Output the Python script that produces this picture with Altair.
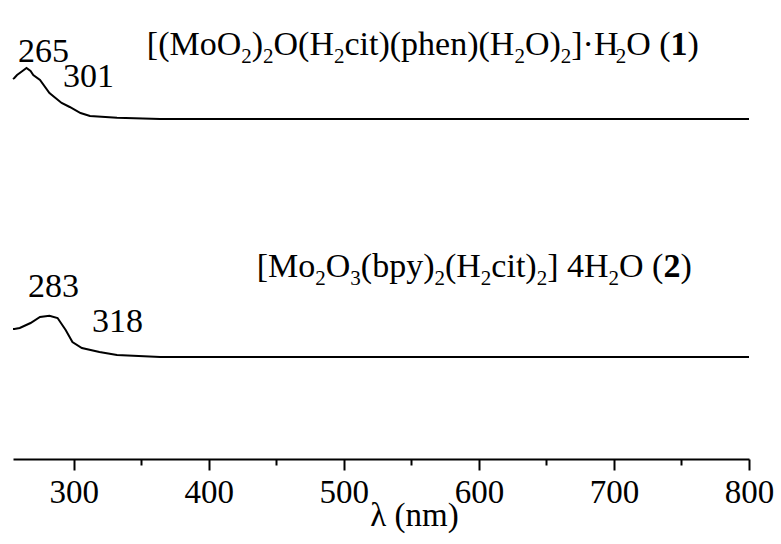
import altair as alt
import pandas as pd

# ---- spectra (wavelength nm, absorbance a.u., offset) ----
wl1 = [255, 256, 258, 262, 265, 268, 270, 275, 282, 291, 297, 305, 312, 332, 364, 400, 500, 600, 700, 800]
ab1 = [3.80, 3.81, 3.84, 3.88, 3.91, 3.88, 3.84, 3.79, 3.66, 3.56, 3.52, 3.46, 3.43, 3.413, 3.40, 3.40, 3.40, 3.40, 3.40, 3.40]
wl2 = [255, 256, 260, 268, 275, 282, 288, 294, 299, 306, 319, 332, 364, 400, 500, 600, 700, 800]
ab2 = [1.30, 1.30, 1.31, 1.36, 1.42, 1.433, 1.41, 1.29, 1.17, 1.11, 1.07, 1.04, 1.02, 1.02, 1.02, 1.02, 1.02, 1.02]

# ---- peak labels ----
peak_text = ["265", "301", "283", "318"]
peak_x = [258.7, 292.0, 266.1, 313.5]
peak_y = [3.97, 3.72, 1.62, 1.27]

# ---- compound labels (segments: text, kind n=normal s=subscript b=bold) ----
title1 = [("[(MoO", "n"), ("2", "s"), (")", "n"), ("2", "s"), ("O(H", "n"), ("2", "s"),
          ("cit)(phen)(H", "n"), ("2", "s"), ("O)", "n"), ("2", "s"), ("]·H", "n"),
          ("2", "s"), ("O (", "n"), ("1", "b"), (")", "n")]
title2 = [("[Mo", "n"), ("2", "s"), ("O", "n"), ("3", "s"), ("(bpy)", "n"), ("2", "s"),
          ("(H", "n"), ("2", "s"), ("cit)", "n"), ("2", "s"), ("] 4H", "n"), ("2", "s"),
          ("O (", "n"), ("2", "b"), (")", "n")]
title_anchor_x = [354.1, 435.5]
title_anchor_y = [4.04, 1.82]

X_DOMAIN = [255, 800]
Y_DOMAIN = [0, 4.59]
W, H = 736, 459
FONT = "Liberation Serif"
FS, SUB_FS = 34, 21
SUB_DROP = 0.08  # in y units

# Times/Liberation Serif advance widths (per 1000 em)
TW = {'[': 333, ']': 333, '(': 333, ')': 333, 'M': 889, 'o': 500, 'O': 722, 'H': 722,
      'c': 444, 'i': 278, 't': 278, 'p': 500, 'h': 500, 'e': 444, 'n': 500, 'b': 500,
      'y': 500, '·': 250, ' ': 250}
for d in "0123456789":
    TW[d] = 500

px_per_nm = W / (X_DOMAIN[1] - X_DOMAIN[0])

rows = []
for segs, ax, ay in zip([title1, title2], title_anchor_x, title_anchor_y):
    off = 0.0
    for txt, kind in segs:
        size = SUB_FS if kind == "s" else FS
        rows.append({"x": ax + off / px_per_nm,
                     "y": ay - (SUB_DROP if kind == "s" else 0.0),
                     "t": txt, "kind": kind})
        off += sum(TW.get(ch, 500) for ch in txt) * size / 1000.0
seg_df = pd.DataFrame(rows)

spec_df = pd.concat([
    pd.DataFrame({"wl": wl1, "A": ab1, "s": "1"}),
    pd.DataFrame({"wl": wl2, "A": ab2, "s": "2"}),
])
peak_df = pd.DataFrame({"x": peak_x, "y": peak_y, "t": peak_text})

xs = alt.Scale(domain=X_DOMAIN, nice=False, zero=False)
ys = alt.Scale(domain=Y_DOMAIN, nice=False, zero=False)

xaxis = alt.Axis(
    values=[300, 350, 400, 450, 500, 550, 600, 650, 700, 750, 800],
    labelExpr="datum.value % 100 === 0 ? datum.label : ''",
    tickSize={"condition": {"test": "datum.value % 100 === 0", "value": 11}, "value": 6},
    tickWidth=2, tickColor="black", domainColor="black", domainWidth=2,
    grid=False, labelFont=FONT, labelFontSize=33, labelColor="black", labelPadding=6,
    labelFlush=False, labelOverlap=False,
    title="λ (nm)", titleFont=FONT, titleFontSize=33, titleFontWeight="normal",
    titleColor="black", titleX=401, titleY=66, titleAlign="center", titleBaseline="alphabetic",
)

lines = alt.Chart(spec_df).mark_line(color="black", strokeWidth=2).encode(
    x=alt.X("wl:Q", scale=xs, axis=xaxis),
    y=alt.Y("A:Q", scale=ys, axis=None),
    detail="s:N",
)

peaks = alt.Chart(peak_df).mark_text(font=FONT, fontSize=FS, align="left", baseline="alphabetic",
                                     color="black").encode(
    x=alt.X("x:Q", scale=xs), y=alt.Y("y:Q", scale=ys), text="t:N")

def seg_layer(kind, size, weight):
    return alt.Chart(seg_df[seg_df.kind == kind]).mark_text(
        font=FONT, fontSize=size, fontWeight=weight, align="left", baseline="alphabetic",
        color="black").encode(x=alt.X("x:Q", scale=xs), y=alt.Y("y:Q", scale=ys), text="t:N")

chart = alt.layer(
    lines, peaks,
    seg_layer("n", FS, "normal"), seg_layer("s", SUB_FS, "normal"), seg_layer("b", FS, "bold"),
).properties(
    width=W, height=H,
    autosize=alt.AutoSizeParams(type="none"),
    padding={"left": 13, "top": 0, "right": 32, "bottom": 85},
).configure_view(stroke=None)

chart.save("out.html", embed_options={"renderer": "svg", "actions": False})
